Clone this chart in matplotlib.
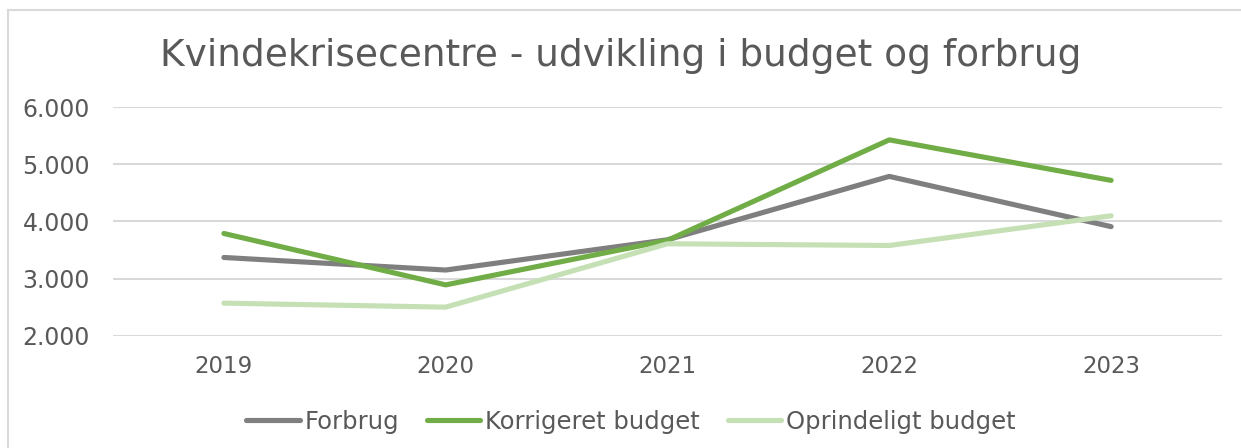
import matplotlib.pyplot as plt
from matplotlib.lines import Line2D
from matplotlib.ticker import FuncFormatter

years = ['2019', '2020', '2021', '2022', '2023']
forbrug = [3370, 3150, 3680, 4790, 3910]
korrigeret = [3790, 2890, 3670, 5430, 4720]
oprindeligt = [2570, 2500, 3610, 3580, 4100]

text_col = '#595959'
grid_col = '#D9D9D9'

fig = plt.figure(figsize=(12.41, 4.48), dpi=100)
ax = fig.add_axes([113 / 1241, 1 - 335.7 / 448, (1222 - 113) / 1241, (335.7 - 107.3) / 448])

x = range(len(years))
ax.plot(x, forbrug, color='#7F7F7F', lw=3.7, solid_capstyle='round', solid_joinstyle='round', label='Forbrug')
ax.plot(x, korrigeret, color='#70AD47', lw=3.7, solid_capstyle='round', solid_joinstyle='round', label='Korrigeret budget')
ax.plot(x, oprindeligt, color='#C5E0B4', lw=3.7, solid_capstyle='round', solid_joinstyle='round', label='Oprindeligt budget')

ax.set_xlim(-0.5, len(years) - 0.5)
ax.set_ylim(2000, 6000)
ax.set_yticks([2000, 3000, 4000, 5000, 6000])
ax.yaxis.set_major_formatter(FuncFormatter(lambda v, p: f'{int(v):,}'.replace(',', '.')))
ax.set_xticks(list(x))
ax.set_xticklabels(years)
ax.grid(axis='y', color=grid_col, lw=1.5)
ax.set_axisbelow(True)
for s in ax.spines.values():
    s.set_visible(False)
ax.tick_params(axis='y', length=0, pad=16.5, labelsize=17, labelcolor=text_col)
ax.tick_params(axis='x', length=0, pad=14, labelsize=16.5, labelcolor=text_col)

fig.text(0.5, 1 - 56 / 448, 'Kvindekrisecentre - udvikling i budget og forbrug',
         ha='center', va='center', fontsize=27, color=text_col)

fig.legend(loc='center', bbox_to_anchor=(631 / 1241, 1 - 422 / 448), ncol=3, frameon=False,
           fontsize=17.5, labelcolor=text_col, handlelength=2.2, handletextpad=0.2,
           columnspacing=1.15)

# chart frame (only top and left visible in the crop)
fig.add_artist(Line2D([7.5 / 1241, 7.5 / 1241], [0, 1 - 10 / 448], transform=fig.transFigure, color=grid_col, lw=1.5))
fig.add_artist(Line2D([7.5 / 1241, 1], [1 - 10 / 448, 1 - 10 / 448], transform=fig.transFigure, color=grid_col, lw=1.5))

fig.savefig('out.png', dpi=100)
